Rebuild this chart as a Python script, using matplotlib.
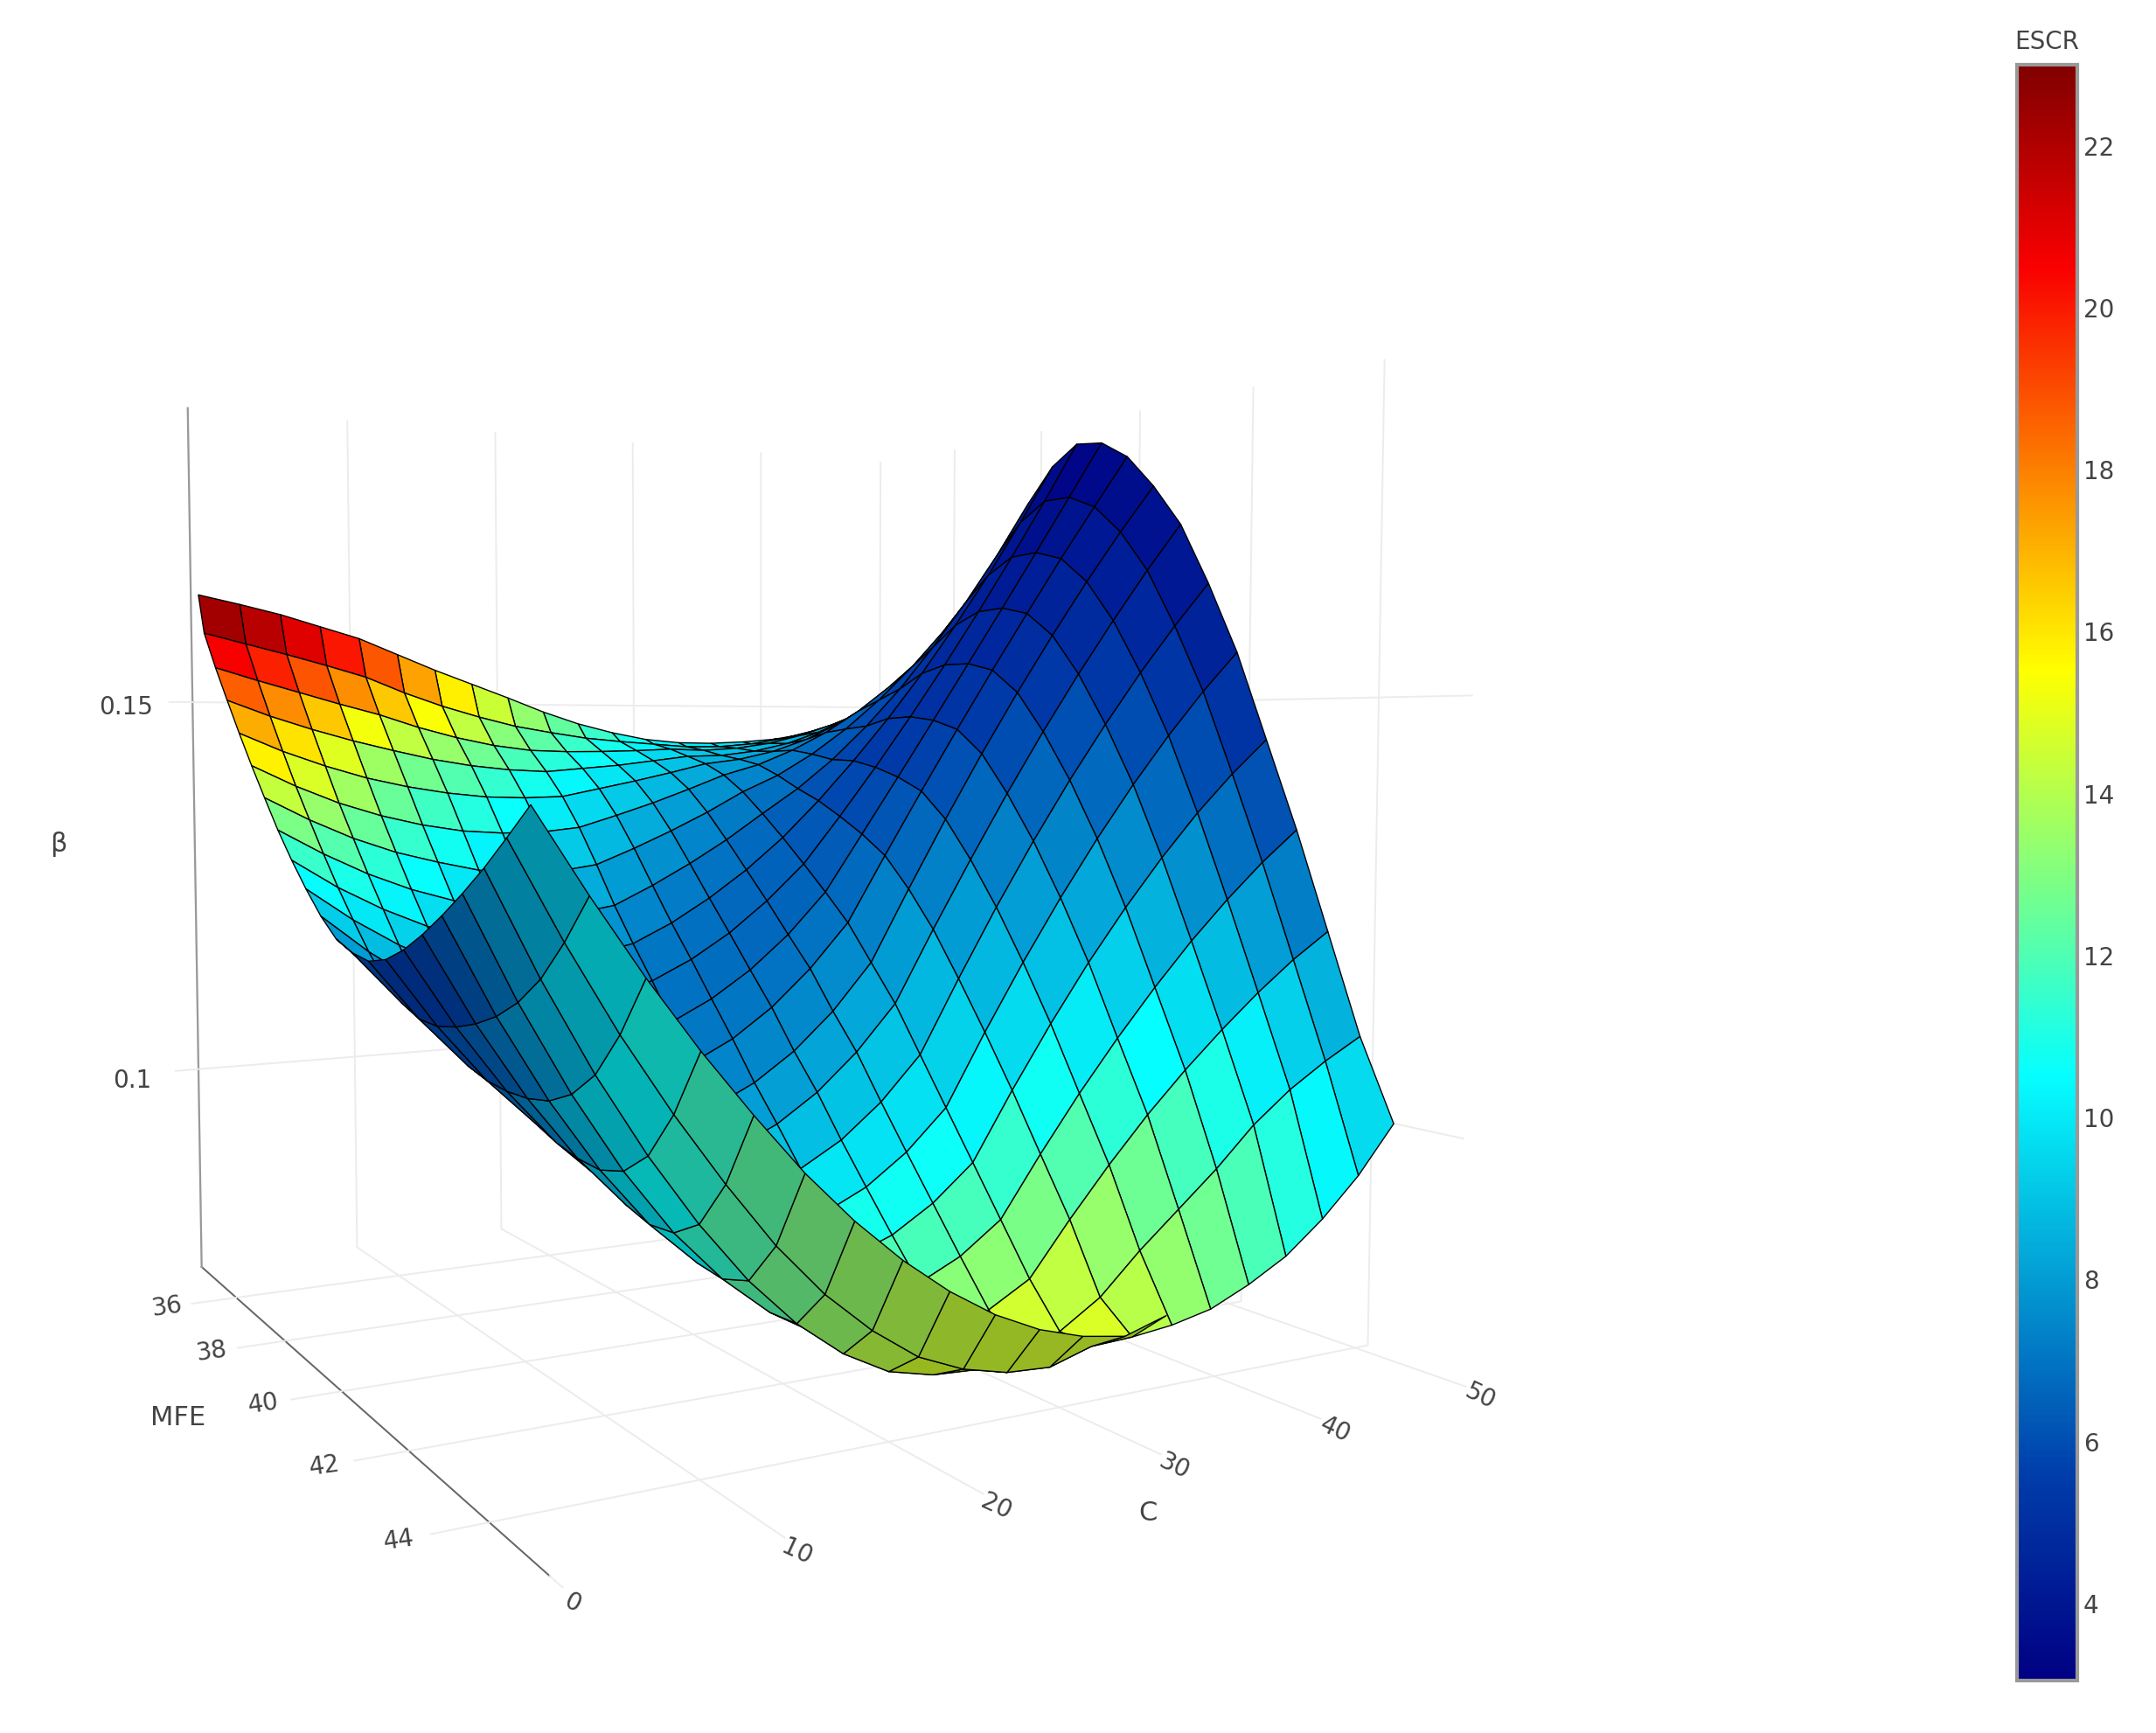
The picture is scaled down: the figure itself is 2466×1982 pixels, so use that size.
import numpy as np, matplotlib
matplotlib.use('Agg')
import matplotlib.pyplot as plt
import matplotlib.axes as maxes
from matplotlib.colors import Normalize, LinearSegmentedColormap
from matplotlib.cm import ScalarMappable
from mpl_toolkits.mplot3d import proj3d
from mpl_toolkits.mplot3d.art3d import Poly3DCollection

C_values = [0,2.5,5,7.5,10,12.5,15,17.5,20,22.5,25,27.5,30,32.5,35,37.5,40,42.5,45,47.5,50]
MFE_values = [34.75,35,35.5,36,36.5,37,37.5,38,38.5,39,39.5,40,40.5,41,41.5,42,42.5,43,43.5,44,44.5,45]
# beta x 10000, one row per C value, one column per MFE value
beta_e4 = [
[1642,1590,1543,1500,1458,1418,1380,1343,1310,1280,1253,1232,1222,1218,1225,1240,1260,1283,1308,1335,1365,1396],
[1631,1577,1527,1480,1435,1392,1352,1313,1276,1242,1210,1182,1164,1153,1152,1158,1168,1182,1202,1230,1269,1315],
[1619,1564,1512,1463,1416,1370,1328,1287,1248,1210,1174,1140,1115,1098,1090,1087,1088,1094,1109,1136,1181,1239],
[1604,1550,1497,1448,1400,1353,1309,1266,1225,1185,1145,1106,1076,1053,1039,1028,1021,1019,1028,1053,1102,1169],
[1589,1535,1483,1435,1388,1340,1295,1250,1207,1165,1122,1080,1045,1018,997,980,966,957,960,980,1030,1105],
[1568,1514,1466,1423,1379,1331,1283,1234,1189,1146,1101,1059,1020,989,964,944,924,910,906,917,964,1045],
[1547,1496,1452,1414,1373,1327,1277,1226,1180,1137,1091,1048,1006,972,943,919,894,875,864,866,909,993],
[1528,1481,1441,1408,1371,1327,1278,1227,1180,1138,1092,1049,1004,967,934,906,876,852,834,827,865,948],
[1509,1468,1434,1405,1372,1332,1285,1235,1190,1148,1103,1060,1015,975,938,905,870,840,815,800,830,910],
[1489,1459,1432,1409,1382,1347,1305,1259,1214,1172,1128,1085,1039,998,955,915,876,840,808,788,809,879],
[1472,1451,1432,1413,1392,1363,1327,1286,1244,1203,1161,1120,1073,1031,983,938,894,852,813,785,797,856],
[1459,1446,1433,1419,1403,1381,1351,1316,1279,1242,1203,1165,1118,1075,1023,973,924,875,828,793,794,841],
[1449,1442,1435,1425,1415,1400,1378,1350,1320,1288,1255,1220,1175,1130,1075,1020,965,910,855,810,808,833],
[1444,1438,1433,1426,1421,1414,1400,1383,1368,1349,1328,1303,1264,1218,1163,1105,1044,979,915,840,810,847],
[1443,1438,1436,1432,1432,1434,1429,1422,1421,1413,1401,1384,1350,1302,1247,1185,1118,1044,971,885,815,860],
[1445,1442,1443,1443,1449,1459,1464,1468,1478,1480,1475,1463,1432,1383,1326,1260,1187,1104,1023,925,825,871],
[1449,1450,1455,1460,1472,1490,1505,1520,1540,1550,1550,1540,1510,1460,1400,1330,1250,1160,1070,965,845,880],
[1457,1462,1471,1482,1501,1527,1552,1579,1607,1623,1625,1615,1584,1533,1469,1395,1308,1212,1113,1010,870,887],
[1468,1477,1491,1509,1535,1569,1605,1643,1678,1699,1701,1689,1655,1602,1534,1455,1361,1259,1153,1046,906,893],
[1482,1496,1516,1542,1575,1617,1664,1713,1754,1778,1778,1760,1722,1668,1594,1510,1408,1302,1189,1075,950,897],
[1500,1520,1545,1580,1620,1670,1730,1790,1835,1860,1855,1830,1785,1730,1650,1560,1450,1340,1220,1100,1005,900],
]
escr = [
[23,21.8,19.8,18.2,17,15.5,14,12.5,11.3,10.2,8.8,7.5,6.2,5.5,5.2,5.2,5.5,6.2,7,7.8,8.4,9],
[22.9,21.4,19.2,17.4,16,14.6,13.2,11.8,10.7,9.7,8.4,7.3,6.3,5.8,5.7,5.9,6.3,7.1,7.9,8.7,9.3,9.9],
[22.4,20.6,18.2,16.2,14.8,13.6,12.3,11.1,10.1,9.2,8.1,7.1,6.4,6.1,6.3,6.7,7.2,8,8.8,9.7,10.2,10.7],
[21.6,19.6,17,14.9,13.6,12.5,11.4,10.4,9.5,8.7,7.7,6.9,6.5,6.5,6.9,7.5,8.1,8.9,9.7,10.6,11,11.4],
[20.5,18.5,15.8,13.5,12.4,11.5,10.6,9.8,9,8.2,7.4,6.8,6.6,6.9,7.5,8.3,9,9.8,10.6,11.5,11.9,12],
[19.1,17.2,14.8,12.9,11.9,11,10,9.3,8.6,7.9,7.3,6.9,6.8,7.2,7.9,8.8,9.6,10.4,11.3,12.2,12.6,12.6],
[17.3,15.8,13.9,12.2,11.3,10.4,9.5,8.8,8.1,7.6,7.2,7,7.1,7.6,8.4,9.4,10.2,11.1,12.1,13,13.2,13.2],
[15.8,14.4,12.9,11.6,10.7,9.9,9,8.3,7.7,7.3,7.1,7.1,7.4,8,8.9,9.9,10.8,11.8,12.8,13.8,13.8,13.6],
[14.5,13.2,12,11,10.2,9.4,8.5,7.8,7.3,7,7,7.2,7.7,8.4,9.4,10.5,11.5,12.5,13.6,14.5,14.5,14],
[13.3,12.4,11.4,10.5,9.7,9,8.2,7.5,7.1,6.8,6.9,7.2,7.7,8.4,9.4,10.4,11.4,12.5,13.7,14.8,14.7,14.2],
[12.3,11.6,10.8,10,9.3,8.6,7.9,7.3,6.9,6.7,6.8,7.2,7.8,8.5,9.4,10.3,11.3,12.5,13.8,15,14.9,14.3],
[11.5,10.9,10.2,9.5,8.9,8.2,7.6,7,6.7,6.5,6.7,7.2,7.9,8.6,9.4,10.2,11.2,12.5,13.9,15.2,14.9,14.3],
[10.8,10.2,9.6,9,8.5,7.9,7.3,6.8,6.5,6.4,6.7,7.3,8,8.7,9.4,10.1,11.2,12.5,14,15.3,14.9,14.2],
[10.5,9.9,9.3,8.7,8.2,7.5,7,6.4,6.1,6,6.2,6.7,7.3,8,8.7,9.4,10.5,11.7,13.2,14.5,14.4,13.9],
[10.2,9.7,9.1,8.5,7.9,7.2,6.6,6.1,5.8,5.6,5.8,6.1,6.7,7.3,8,8.8,9.8,11,12.4,13.7,13.8,13.5],
[10,9.5,8.9,8.2,7.6,6.9,6.3,5.8,5.4,5.2,5.3,5.5,6,6.6,7.3,8.1,9.1,10.2,11.6,12.8,13.2,13.1],
[9.8,9.3,8.7,8,7.3,6.6,6,5.5,5.1,4.9,4.9,5,5.4,6,6.7,7.5,8.5,9.5,10.8,12,12.6,12.7],
[10,9.5,8.9,8.2,7.5,6.7,6,5.2,4.7,4.4,4.4,4.6,4.9,5.4,6,6.7,7.6,8.6,9.9,11.2,11.9,12],
[10.1,9.6,9,8.4,7.6,6.8,5.9,5,4.3,4,4,4.2,4.4,4.8,5.3,5.9,6.8,7.8,9.1,10.4,11.1,11.2],
[10.3,9.8,9.2,8.6,7.8,6.9,5.8,4.7,3.9,3.5,3.5,3.8,3.9,4.2,4.6,5.2,6,7,8.3,9.6,10.4,10.5],
[10.5,10,9.4,8.8,8,7,5.7,4.5,3.6,3.1,3.1,3.4,3.5,3.6,3.9,4.4,5.2,6.2,7.5,8.8,9.7,9.8],
]
mfe_ticks = [36,38,40,42,44]
c_ticks = [0,10,20,30,40,50]
beta_ticks = [0.1,0.15]
beta_ticklabels = ['0.1','0.15']
escr_ticks = list(range(4,24,2))
EDGE_CUT_FROM_C = 32.5  # the outermost MFE strip is absent above this C
UNDERSIDE_SHADE = 0.72  # faces seen from below are drawn darker
JET_STOPS = [(0,'#000083'),(0.125,'#003caa'),(0.375,'#05ffff'),(0.625,'#ffff00'),(0.875,'#fa0000'),(1,'#800000')]

MFE_LIM=(34.381,45.279); C_LIM=(0,50.965); BETA_LIM=(0.07262,0.18934); ESCR_LIM=(3.05,23.0)
W,H=2466,1982; S=W/1568; K,CX,CY=6194.72,561.30,620.29
GREY='#444444'; GRID='#ececec'; GLW=1.4
plt.rcParams['font.family']=['DejaVu Sans']
fig=plt.figure(figsize=(W/100,H/100),dpi=100,facecolor='white')
ax=fig.add_axes([0.1,0.1,0.8,0.8],projection='3d')
ax.set_box_aspect((1.0641,1,1.0394))
ax.view_init(3.306,-29.600)
ax.set_proj_type('persp',focal_length=0.2414)
ax.set_xlim(*MFE_LIM);ax.set_ylim(*C_LIM);ax.set_zlim(*BETA_LIM)
x0,x1=maxes.Axes.get_xlim(ax);y0,y1=maxes.Axes.get_ylim(ax)
L=S*(K*x0+CX);R=S*(K*x1+CX);B=S*(CY-K*y0);T=S*(CY-K*y1)
ax.set_position([L/W,1-B/H,(R-L)/W,(B-T)/H])
ax.patch.set_alpha(0)

M=np.array(MFE_values);C=np.array(C_values);Z=np.array(beta_e4)/1e4;E=np.array(escr)
norm=Normalize(*ESCR_LIM);cmap=LinearSegmentedColormap.from_list('plotly_jet',JET_STOPS,N=512)
polys=[];vals=[]
for i in range(len(C)-1):
    for j in range(len(M)-1):
        if j==len(M)-2 and C[i+1]>EDGE_CUT_FROM_C:
            continue
        polys.append([(M[j],C[i],Z[i,j]),(M[j+1],C[i],Z[i,j+1]),(M[j+1],C[i+1],Z[i+1,j+1]),(M[j],C[i+1],Z[i+1,j])])
        vals.append(E[i:i+2,j:j+2].mean())
P=np.array(polys)
u,v,_=proj3d.proj_transform(P[...,0].ravel(),P[...,1].ravel(),P[...,2].ravel(),ax.get_proj())
u=u.reshape(P.shape[:2]);v=v.reshape(P.shape[:2])
area=0.5*((u[:,2]-u[:,0])*(v[:,3]-v[:,1])-(u[:,3]-u[:,1])*(v[:,2]-v[:,0]))
faces=cmap(norm(np.array(vals)))
under=np.sign(area)!=np.sign(area[0])
faces[under,:3]*=UNDERSIDE_SHADE
surf=Poly3DCollection(polys,facecolors=faces,edgecolors='black',linewidths=1.0,zsort='average')
ax.add_collection3d(surf)

for axis in (ax.xaxis,ax.yaxis,ax.zaxis):
    axis.set_pane_color((1,1,1,0))
    axis.pane.set_edgecolor((1,1,1,0))
    axis._axinfo['grid'].update(color=GRID,linewidth=GLW)
    axis._axinfo['tick'].update(inward_factor=0,outward_factor=0,linewidth={True:0,False:0})
ax.set_xticks(mfe_ticks);ax.set_yticks(c_ticks);ax.set_zticks(beta_ticks)
ax.set_xticklabels(['']*len(mfe_ticks));ax.set_yticklabels(['']*len(c_ticks));ax.set_zticklabels(['']*len(beta_ticks))
ax.set_xlim(*MFE_LIM);ax.set_ylim(*C_LIM);ax.set_zlim(*BETA_LIM)
ax.xaxis.line.set_color('#666666');ax.xaxis.line.set_linewidth(1.4)
ax.yaxis.line.set_color((1,1,1,0));ax.zaxis.line.set_color((1,1,1,0))
ax.plot([MFE_LIM[0]]*2,[0,0],BETA_LIM,color='#999999',lw=1.6)
for t in mfe_ticks: ax.plot([t,t],[-2.6,0],[BETA_LIM[0]]*2,color=GRID,lw=GLW)
for t in beta_ticks: ax.plot([MFE_LIM[0]]*2,[-1.4,0],[t,t],color=GRID,lw=GLW)
for t in c_ticks: ax.plot([MFE_LIM[1],MFE_LIM[1]+.25],[t,t],[BETA_LIM[0]]*2,color=GRID,lw=GLW)

FS=20
def label3d(mfe,c,b,s,rot=0,fs=FS):
    p,q,_=proj3d.proj_transform(mfe,c,b,ax.get_proj())
    ax.text2D(p,q,s,transform=ax.transData,color=GREY,fontsize=fs,ha='center',va='center',rotation=rot,rotation_mode='anchor')
for t in mfe_ticks:
    label3d(t,-4.0,BETA_LIM[0],str(t),8)
for t in c_ticks:
    label3d(45.72,t,BETA_LIM[0]-0.0006,str(t),-25)
for t,s in zip(beta_ticks,beta_ticklabels):
    label3d(MFE_LIM[0],-4,t-0.0008,s)
label3d(40.0,-8.2,BETA_LIM[0],'MFE',fs=22)
label3d(46.03,27.2,0.0695,'C',fs=22)
label3d(MFE_LIM[0],-8.05,0.1312,'β',fs=22)

cax=fig.add_axes([2307/W,1-1922/H,69/W,1848/H])
cb=fig.colorbar(ScalarMappable(norm=norm,cmap=cmap),cax=cax,ticks=escr_ticks)
cb.ax.tick_params(length=0,labelsize=FS,labelcolor=GREY,pad=5)
cb.outline.set_edgecolor('#999999');cb.outline.set_linewidth(3)
cax.set_title('ESCR',fontsize=FS,color=GREY,pad=13)
fig.savefig('out.png',dpi=100)
